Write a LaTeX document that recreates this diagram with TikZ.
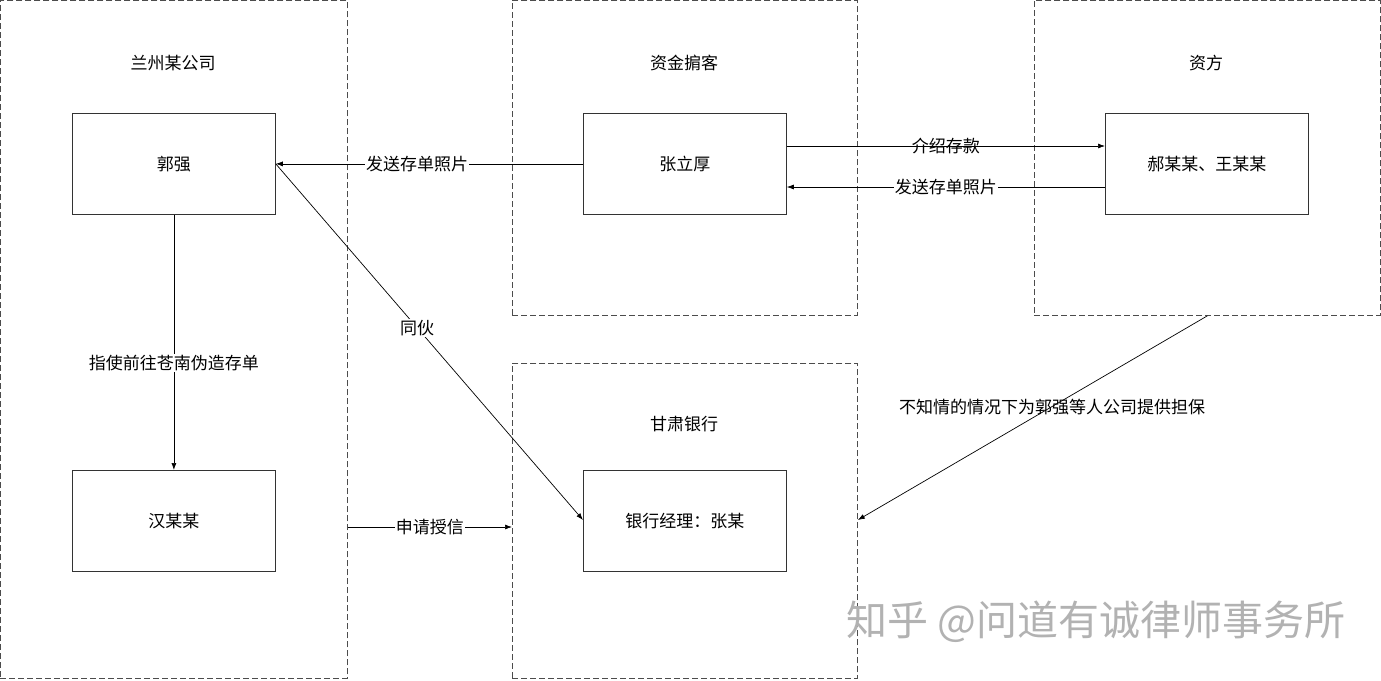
\documentclass[tikz,border=0pt]{standalone}
\usepackage{fontspec}
\setmainfont{Noto Sans CJK SC}
\usetikzlibrary{arrows.meta}
\begin{document}
\begin{tikzpicture}[x=1pt,y=-1pt,
 grp/.style={draw=black!70,dash pattern=on 6pt off 3pt,line width=0.8pt},
 box/.style={draw=black!80,line width=0.8pt,minimum width=203pt,minimum height=101pt,anchor=north west,font=\fontsize{17}{20}\selectfont},
 ttl/.style={font=\fontsize{17}{20}\selectfont},
 lab/.style={font=\fontsize{17}{20}\selectfont,fill=white,inner sep=1pt},
 arr/.style={-{Latex[length=7pt,width=5pt]},line width=0.7pt}]
\useasboundingbox (0,0) rectangle (1381,680);
\fill[white] (0,0) rectangle (1381,680);
\node[grp,minimum width=347pt,minimum height=678pt,anchor=north west,inner sep=0] (g1) at (0,0) {};
\node[grp,minimum width=345pt,minimum height=315pt,anchor=north west,inner sep=0] (g2) at (512,0) {};
\node[grp,minimum width=346pt,minimum height=315pt,anchor=north west,inner sep=0] (g3) at (1034,0) {};
\node[grp,minimum width=345pt,minimum height=315pt,anchor=north west,inner sep=0] (g4) at (512,363) {};
\node[ttl] (t1) at (173,63) {兰州某公司};
\node[ttl] (t2) at (684,63) {资金掮客};
\node[ttl] (t3) at (1206,63) {资方};
\node[ttl] (t4) at (684,424) {甘肃银行};
\node[box] (gq) at (72,113) {郭强};
\node[box] (hm) at (72,470) {汉某某};
\node[box] (zl) at (583,113) {张立厚};
\node[box] (hw) at (1105,113) {郝某某、王某某};
\node[box] (yh) at (583,470) {银行经理：张某};
\draw[arr] (zl.west) -- node[lab,pos=0.54]{发送存单照片} (gq.east);
\draw[arr] (zl.east|-0,146) -- node[lab,pos=0.5,fill=none]{介绍存款} (hw.west|-0,146);
\draw[arr] (hw.west|-0,187) -- node[lab,pos=0.5]{发送存单照片} (zl.east|-0,187);
\draw[arr] (gq.south) -- node[lab,pos=0.58]{指使前往苍南伪造存单} (hm.north);
\draw[arr] (gq.east) -- node[lab,pos=0.46]{同伙} (yh.west|-0,520);
\draw[arr] (g1.east|-0,527) -- node[lab]{申请授信} (g4.west|-0,527);
\draw[arr] (g3.south) -- (g4.east|-0,520);
\node[font=\fontsize{17}{20}\selectfont] (bz) at (1052,407) {不知情的情况下为郭强等人公司提供担保};
\node[font=\fontsize{41}{48}\selectfont,text=black!30] (wm) at (1096,622) {知乎 @问道有诚律师事务所};
\end{tikzpicture}
\end{document}
